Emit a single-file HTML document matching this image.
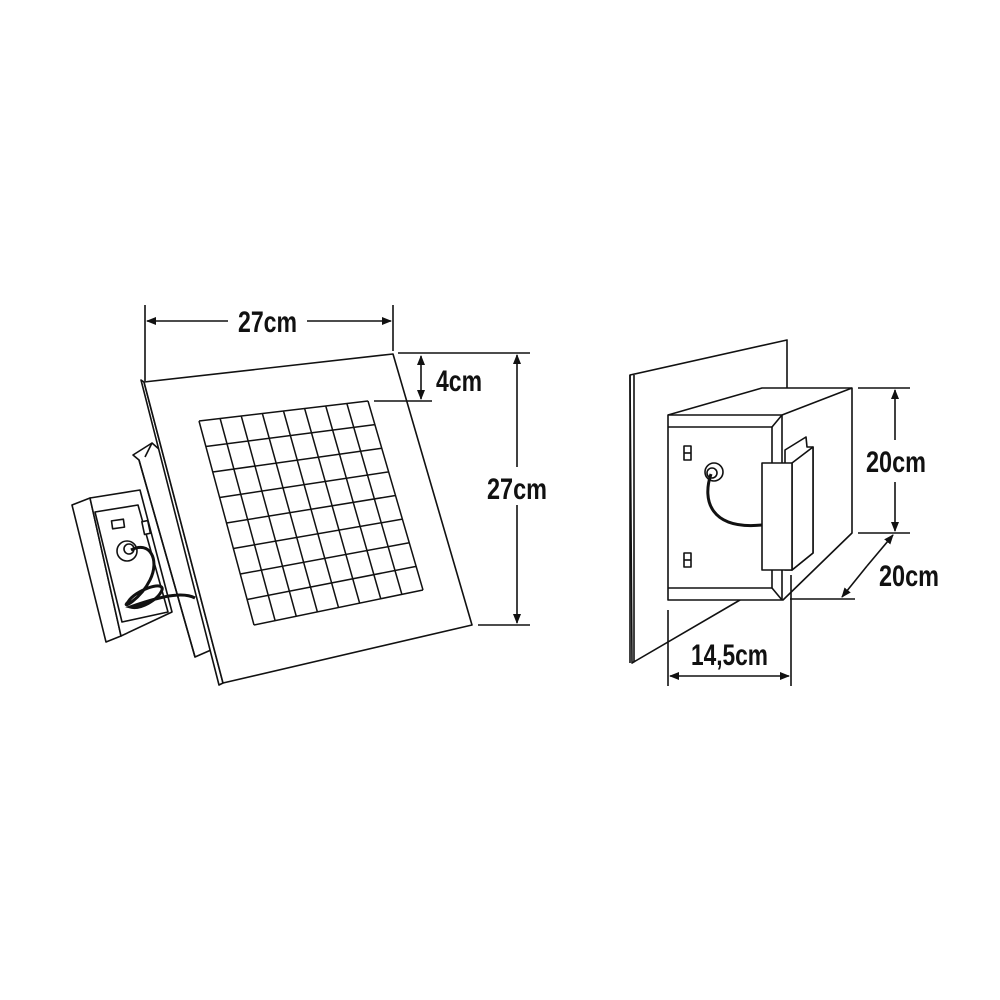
<!DOCTYPE html>
<html><head><meta charset="utf-8"><style>
html,body{margin:0;padding:0;background:#fff}
svg{display:block}
text{font-family:"Liberation Sans Narrow","Liberation Sans",sans-serif;font-weight:bold;font-size:30px;fill:#111}
</style></head><body>
<svg id="s" width="1000" height="1000" viewBox="0 0 1000 1000" xmlns="http://www.w3.org/2000/svg">
<defs>
<marker id="a" markerWidth="10" markerHeight="8" refX="9" refY="4" orient="auto" markerUnits="userSpaceOnUse"><path d="M0,0 L10,4 L0,8 Z" fill="#111"/></marker>
</defs>
<g fill="#fff" stroke="#111" stroke-width="1.6" stroke-linejoin="round">
<polygon points="72,505 90,498 121,636 106,642"/>
<polygon points="90,498 140,490 172,612 121,636"/>
<polygon points="95,512 138,505 168,612 122,622"/>
<rect x="112" y="520" width="12" height="8" transform="rotate(-8 118 524)"/>
<rect x="143" y="521" width="6" height="13" transform="rotate(-12 146 527)"/>
<circle cx="127" cy="551" r="10"/>
<circle cx="129" cy="549" r="5"/>
<polygon points="133,455 152,443 160,450 211,650 195,657 139,460"/>
<line x1="139" y1="460" x2="195" y2="657"/>
<line x1="152" y1="443" x2="145" y2="457"/>
<polygon points="141,380 144,382 223,683 219,685"/>
<polygon points="144,382 393,354 472,625 223,683"/>
</g>
<path d="M131,550 C150,540 160,560 150,580 C140,600 120,610 128,602 C135,590 165,580 162,590 C158,600 140,610 130,607 C150,600 180,590 195,598" fill="none" stroke="#111" stroke-width="3"/>
<g id="grid" stroke="#111" stroke-width="1.5" fill="none"></g>
<g fill="#fff" stroke="#111" stroke-width="1.6" stroke-linejoin="round">
<polygon points="630,375 787,340 787,400 740,600 632,663"/>
<line x1="634" y1="375" x2="634" y2="662"/>
<line x1="630" y1="375" x2="630" y2="663"/>
<polygon points="668,415 762,388 852,388 852,533 783,600 668,600"/>
<line x1="668" y1="415" x2="782" y2="415"/>
<line x1="782" y1="415" x2="852" y2="388"/>
<line x1="782" y1="415" x2="782" y2="600"/>
<line x1="668" y1="427" x2="772" y2="427"/>
<line x1="772" y1="427" x2="772" y2="588"/>
<line x1="668" y1="588" x2="772" y2="588"/>
<line x1="772" y1="427" x2="782" y2="415"/>
<line x1="772" y1="588" x2="782" y2="600"/>
<polygon points="785,450 806,437 807,447 813,447 813,553 792,570 785,570"/>
<polygon points="792,463 813,447 813,553 792,570"/>
<rect x="762" y="463" width="30" height="107"/>
<rect x="684" y="446" width="7" height="14"/><line x1="684" y1="453" x2="691" y2="453"/>
<rect x="684" y="553" width="7" height="14"/><line x1="684" y1="560" x2="691" y2="560"/>
<circle cx="714" cy="472" r="9"/><circle cx="712" cy="473" r="5"/>
</g>
<path d="M711,474 C702,500 710,530 762,525" fill="none" stroke="#111" stroke-width="3"/>
<g stroke="#111" stroke-width="1.6" fill="none">
<line x1="145" y1="305" x2="145" y2="381"/>
<line x1="393" y1="305" x2="393" y2="351"/>
<line x1="228" y1="321" x2="147" y2="321" marker-end="url(#a)"/>
<line x1="307" y1="321" x2="391" y2="321" marker-end="url(#a)"/>
<line x1="398" y1="353" x2="530" y2="353"/>
<line x1="374" y1="401" x2="432" y2="401"/>
<line x1="421" y1="377" x2="421" y2="356" marker-end="url(#a)"/>
<line x1="421" y1="377" x2="421" y2="399" marker-end="url(#a)"/>
<line x1="478" y1="625" x2="530" y2="625"/>
<line x1="517" y1="467" x2="517" y2="355" marker-end="url(#a)"/>
<line x1="517" y1="505" x2="517" y2="623" marker-end="url(#a)"/>
<line x1="858" y1="388" x2="910" y2="388"/>
<line x1="858" y1="533" x2="910" y2="533"/>
<line x1="895" y1="440" x2="895" y2="390" marker-end="url(#a)"/>
<line x1="895" y1="482" x2="895" y2="531" marker-end="url(#a)"/>
<line x1="790" y1="599" x2="855" y2="599"/>
<line x1="867" y1="566" x2="893" y2="535" marker-end="url(#a)"/>
<line x1="867" y1="566" x2="842" y2="597" marker-end="url(#a)"/>
<line x1="668" y1="610" x2="668" y2="686"/>
<line x1="791" y1="575" x2="791" y2="686"/>
<line x1="730" y1="676" x2="670" y2="676" marker-end="url(#a)"/>
<line x1="730" y1="676" x2="789" y2="676" marker-end="url(#a)"/>
</g>
<text x="238" y="332" textLength="59" lengthAdjust="spacingAndGlyphs">27cm</text>
<text x="436" y="391" textLength="46" lengthAdjust="spacingAndGlyphs">4cm</text>
<text x="487" y="499" textLength="60" lengthAdjust="spacingAndGlyphs">27cm</text>
<text x="866" y="472" textLength="60" lengthAdjust="spacingAndGlyphs">20cm</text>
<text x="879" y="586" textLength="60" lengthAdjust="spacingAndGlyphs">20cm</text>
<text x="691" y="665" textLength="77" lengthAdjust="spacingAndGlyphs">14,5cm</text>
</svg>
<script>
var g=document.getElementById('grid'),n=8;
var TL=[199,421],TR=[368,401],BR=[423,590],BL=[254,625];
function L(a,b,t){return [a[0]+(b[0]-a[0])*t,a[1]+(b[1]-a[1])*t];}
var s='';
for(var i=0;i<=n;i++){var t=i/n;
var p=L(TL,TR,t),q=L(BL,BR,t);s+='M'+p[0]+','+p[1]+'L'+q[0]+','+q[1];
p=L(TL,BL,t);q=L(TR,BR,t);s+='M'+p[0]+','+p[1]+'L'+q[0]+','+q[1];}
var e=document.createElementNS('http://www.w3.org/2000/svg','path');e.setAttribute('d',s);g.appendChild(e);
</script>
</body></html>
